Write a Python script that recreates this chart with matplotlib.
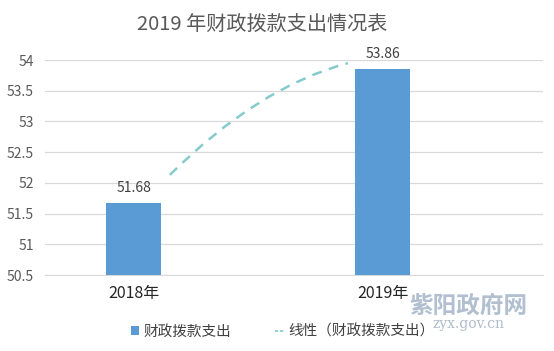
import matplotlib
matplotlib.use("Agg")
import matplotlib.pyplot as plt
from matplotlib.path import Path
from matplotlib.patches import PathPatch
from matplotlib.lines import Line2D
from matplotlib.patches import Patch

plt.rcParams['font.family'] = ['Noto Sans CJK SC', 'DejaVu Sans']

categories = ['2018年', '2019年']
values = [51.68, 53.86]
value_labels = ['51.68', '53.86']
yticks = [50.5, 51, 51.5, 52, 52.5, 53, 53.5, 54]
ytick_labels = ['50.5', '51', '51.5', '52', '52.5', '53', '53.5', '54']
# trend line (start, control, end) in data coordinates
trend_x = [0.145, 0.50, 0.86]
trend_y = [52.13, 53.56, 53.95]

fig = plt.figure(figsize=(5.54, 3.51), dpi=100)
ax = fig.add_axes([0.081, 0.2165, 0.899, 0.6125])

xs = list(range(len(categories)))
ax.bar(xs, values, width=0.22, color='#5b9bd5', zorder=3)
for x, v, lab in zip(xs, values, value_labels):
    ax.text(x, v + 0.12, lab, ha='center', va='bottom', fontsize=10, color='#404040')

path = Path(list(zip(trend_x, trend_y)), [Path.MOVETO, Path.CURVE3, Path.CURVE3])
ax.add_patch(PathPatch(path, facecolor='none', edgecolor='#86cbcb', lw=1.8,
                       linestyle=(0, (4, 3)), zorder=4))

ax.set_xlim(-0.357, 1.643)
ax.set_ylim(50.5, 54)
ax.set_yticks(yticks)
ax.set_yticklabels(ytick_labels)
ax.set_xticks(xs)
ax.set_xticklabels(categories)
ax.tick_params(axis='y', length=0, labelsize=10, labelcolor='#595959', pad=8)
ax.tick_params(axis='x', length=0, labelsize=11.5, labelcolor='#262626', pad=7)
ax.grid(axis='y', color='#d9d9d9', lw=0.9, zorder=0)
for s in ['top', 'right', 'left']:
    ax.spines[s].set_visible(False)
ax.spines['bottom'].set_color('#d9d9d9')

fig.text(0.473, 0.928, '2019 年财政拨款支出情况表', ha='center', va='center',
         fontsize=14.5, color='#595959')

handles = [Patch(facecolor='#5b9bd5', edgecolor='none'),
           Line2D([0], [0], color='#86cbcb', lw=1.2, linestyle=(0, (2, 1)))]
fig.legend(handles, ['财政拨款支出', '线性（财政拨款支出）'], loc='center',
           bbox_to_anchor=(0.51, 0.055), ncol=2, frameon=False, fontsize=10.5,
           handlelength=0.6, handleheight=0.6, columnspacing=3.0, handletextpad=0.3,
           labelcolor='#404040')

# watermark
fig.text(0.845, 0.13, '紫阳政府网', ha='center', va='center', fontsize=17,
         fontweight='bold', color='#a9b8cc', alpha=0.9)
fig.text(0.845, 0.078, 'zyx.gov.cn', ha='center', va='center', fontsize=10,
         family='DejaVu Serif', color='#b0bccb')

fig.savefig('out.png', dpi=100)
